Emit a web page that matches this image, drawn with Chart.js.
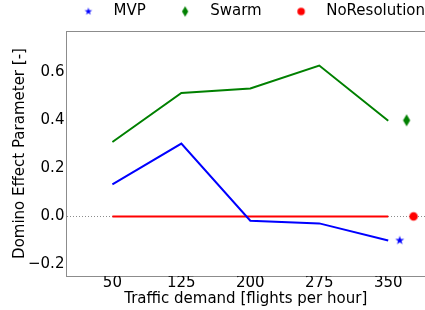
<!DOCTYPE html>
<html>
<head>
<meta charset="utf-8">
<script src="https://cdn.jsdelivr.net/npm/chart.js@4"></script>
<style>
  html, body { margin: 0; padding: 0; background: #fff; overflow: hidden; }
  #wrap { width: 425px; height: 310px; }
</style>
</head>
<body>
<div id="wrap"><canvas id="dominoChart"></canvas></div>
<script>
// traffic demand levels (x) and the three lines
const trafficDemand = [50, 125, 200, 275, 350];
const mvpValues = [0.133, 0.303, -0.018, -0.029, -0.100];
const swarmValues = [0.310, 0.514, 0.533, 0.628, 0.398];
const noResValues = [0, 0, 0, 0, 0];

// single markers on the right (these carry the legend)
const markerNames = ['MVP', 'Swarm', 'NoResolution'];
const markerX = [362.5, 370, 377.5];
const markerY = [-0.100, 0.400, 0.0];

const xTicks = [50, 125, 200, 275, 350];

const BLUE = '#0000ff', GREEN = '#008000', RED = '#ff0000';
const FONT = { family: 'DejaVu Sans', size: 15, lineHeight: 1 };

// little canvases for the matplotlib-like markers
function markerCanvas(shape, size, color, shiftX) {
    const pad = 2;
    const w = 2 * Math.ceil(size / 2 + Math.abs(shiftX) + pad);
    const h = 2 * Math.ceil(size / 2 + pad);
    const c = document.createElement('canvas');
    c.width = w; c.height = h;
    const g = c.getContext('2d');
    g.fillStyle = color;
    g.translate(w / 2 + shiftX, h / 2);
    g.beginPath();
    const r = size / 2;
    if (shape === 'star') {
        for (let i = 0; i < 10; i++) {
            const rad = i % 2 === 0 ? r : r * 0.382;
            const a = -Math.PI / 2 + i * Math.PI / 5;
            g.lineTo(rad * Math.cos(a), rad * Math.sin(a));
        }
        g.closePath();
    } else if (shape === 'thin_diamond') {
        g.moveTo(0, -r); g.lineTo(r * 0.6, 0); g.lineTo(0, r); g.lineTo(-r * 0.6, 0);
        g.closePath();
    } else {
        g.arc(0, 0, r, 0, Math.PI * 2);
    }
    g.fill();
    return c;
}

const pointStyles = [
    markerCanvas('star', 9.5, BLUE, 0),
    markerCanvas('thin_diamond', 12, GREEN, 0),
    markerCanvas('circle', 8.5, RED, 0)
];
const legendStyles = [
    markerCanvas('star', 8, BLUE, 8.9),
    markerCanvas('thin_diamond', 10.5, GREEN, 8.9),
    markerCanvas('circle', 7.5, RED, 8.9)
];
const markerColors = [BLUE, GREEN, RED];

function lineSet(values, color) {
    return {
        type: 'line',
        data: trafficDemand.map((x, i) => ({ x: x, y: values[i] })),
        borderColor: color,
        borderWidth: 2,
        pointRadius: 0,
        fill: false,
        tension: 0,
        showInLegend: false
    };
}

const markerSets = markerNames.map((name, i) => ({
    type: 'scatter',
    label: name,
    data: [{ x: markerX[i], y: markerY[i] }],
    pointStyle: pointStyles[i],
    backgroundColor: markerColors[i],
    borderColor: markerColors[i],
    showInLegend: true
}));

const ctx = document.getElementById('dominoChart').getContext('2d');
const chart = new Chart(ctx, {
    data: {
        datasets: [
            ...markerSets,
            lineSet(mvpValues, BLUE),
            lineSet(swarmValues, GREEN),
            lineSet(noResValues, RED)
        ]
    },
    options: {
        responsive: true,
        maintainAspectRatio: false,
        animation: false,
        // the original figure is cropped on the right, so let the legend run past the edge
        layout: { padding: { left: 0, top: 0, bottom: 0, right: -4 }, autoPadding: false },
        plugins: {
            tooltip: { enabled: false },
            legend: {
                position: 'top',
                align: 'end',
                labels: {
                    usePointStyle: true,
                    pointStyleWidth: 53,
                    padding: 4,
                    color: '#000',
                    font: { family: 'DejaVu Sans', size: 15 },
                    filter: (item, data) => data.datasets[item.datasetIndex].showInLegend,
                    generateLabels: chart =>
                        Chart.defaults.plugins.legend.labels.generateLabels(chart)
                            .map(item => ({ ...item, pointStyle: legendStyles[item.datasetIndex] || item.pointStyle }))
                }
            }
        },
        scales: {
            x: {
                type: 'linear',
                position: 'bottom',
                min: 0,
                max: 390,
                afterBuildTicks: scale => { scale.ticks = xTicks.map(v => ({ value: v })); },
                grid: { display: false, drawTicks: false },
                border: { display: true, color: '#8c8c8c', width: 1 },
                ticks: { color: '#000', font: FONT, padding: 0, maxRotation: 0 },
                title: {
                    display: true,
                    text: 'Traffic demand [flights per hour]',
                    color: '#000',
                    font: FONT,
                    padding: { top: 0.5, bottom: 3.5 }
                }
            },
            xTop: {
                type: 'linear',
                position: 'top',
                min: 0,
                max: 390,
                grid: { display: false, drawTicks: false },
                border: { display: true, color: '#8c8c8c', width: 1 },
                ticks: { display: false },
                afterFit: scale => { scale.height = 2; }
            },
            y: {
                min: -0.248,
                max: 0.772,
                grid: {
                    display: true,
                    drawTicks: false,
                    lineWidth: 1,
                    color: c => (c.tick && Math.abs(c.tick.value) < 1e-9) ? '#8c8c8c' : 'rgba(0,0,0,0)'
                },
                border: { display: true, color: '#8c8c8c', width: 1, dash: [1, 2] },
                ticks: {
                    stepSize: 0.2,
                    includeBounds: false,
                    color: '#000',
                    font: FONT,
                    padding: 2,
                    callback: v => v.toFixed(1).replace('-', '\u2212')
                },
                title: {
                    display: true,
                    text: 'Domino Effect Parameter [-]',
                    color: '#000',
                    font: FONT,
                    padding: { top: 13, bottom: -2 }
                }
            }
        }
    }
});
</script>
</body>
</html>
